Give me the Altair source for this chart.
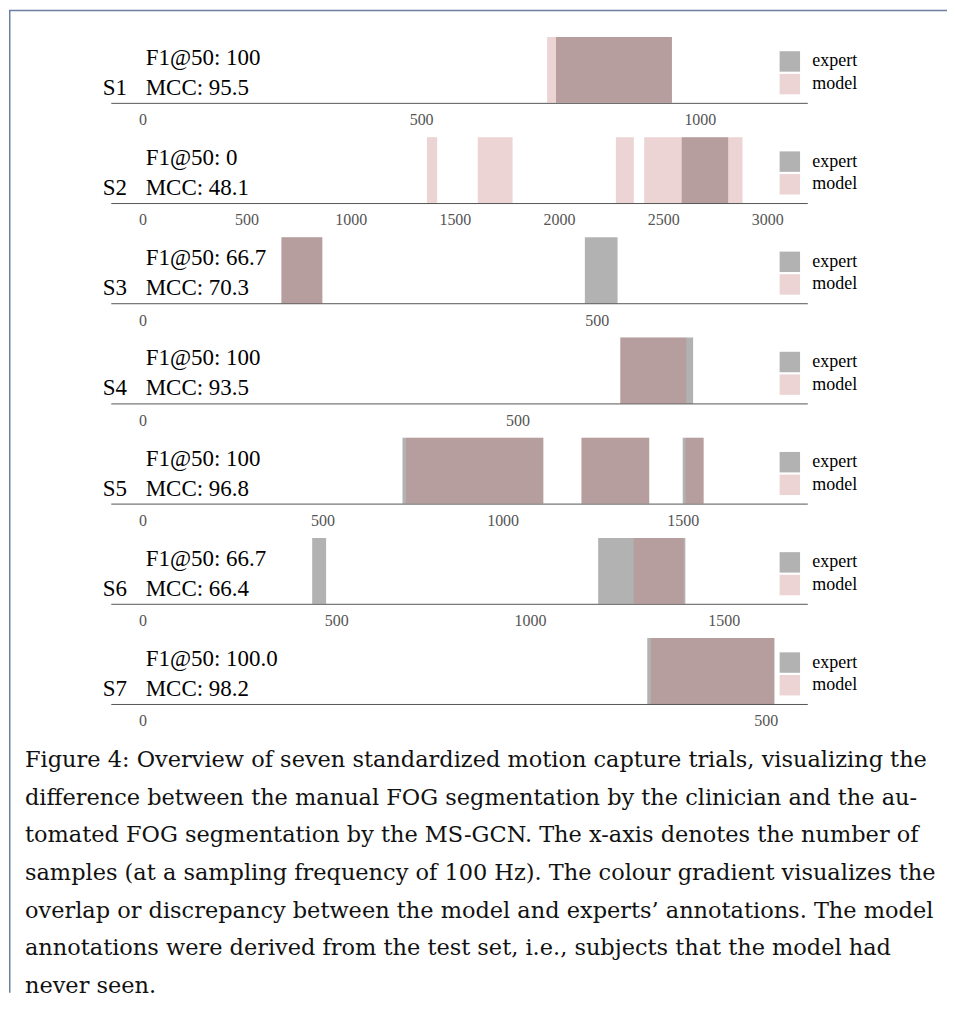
import altair as alt
import pandas as pd

# ---------------- data ----------------
subjects = ["S1", "S2", "S3", "S4", "S5", "S6", "S7"]
f1_scores = ["100", "0", "66.7", "100", "100", "66.7", "100.0"]
mcc_scores = ["95.5", "48.1", "70.3", "93.5", "96.8", "66.4", "98.2"]
trial_lengths = [1136, 3040, 697, 844, 1758, 1634, 508]
tick_values = [
    [0, 500, 1000],
    [0, 500, 1000, 1500, 2000, 2500, 3000],
    [0, 500],
    [0, 500],
    [0, 500, 1000, 1500],
    [0, 500, 1000, 1500],
    [0, 500],
]
expert_starts = [[742], [2589], [153, 487], [637], [722, 1219, 1500], [438, 1176], [405]]
expert_ends = [[950], [2812], [198, 523], [734], [1113, 1407, 1558], [474, 1401], [507]]
model_starts = [[726], [1366, 1610, 2273, 2409], [153], [637], [732, 1219, 1508], [1268], [408]]
model_ends = [[950], [1415, 1777, 2359, 2881], [198], [725], [1113, 1407, 1558], [1397], [507]]
series_names = ["expert", "model"]
series_colors = ["#000000", "#c07073"]

caption_lines = [
    "Figure 4: Overview of seven standardized motion capture trials, visualizing the",
    "difference between the manual FOG segmentation by the clinician and the au-",
    "tomated FOG segmentation by the MS-GCN. The x-axis denotes the number of",
    "samples (at a sampling frequency of 100 Hz). The colour gradient visualizes the",
    "overlap or discrepancy between the model and experts\u2019 annotations. The model",
    "annotations were derived from the test set, i.e., subjects that the model had",
    "never seen.",
]

# ---------------- style ----------------
W = 940
H = 66
SPACING = 34.4
SERIF = "Liberation Serif"
CAP_FONT = "DejaVu Serif"
FRAME = "#6b7f9e"
CAP_H = 255


def panel(i):
    rows = []
    for s, e in zip(expert_starts[i], expert_ends[i]):
        rows.append({"who": "expert", "start": s, "end": e})
    for s, e in zip(model_starts[i], model_ends[i]):
        rows.append({"who": "model", "start": s, "end": e})
    df = pd.DataFrame(rows)
    L = trial_lengths[i]
    xscale = alt.Scale(domain=[-0.05 * L, 1.05 * L], range=[102, 800], nice=False, zero=False)
    bars = alt.Chart(df).mark_rect(opacity=0.3).encode(
        x=alt.X(
            "start:Q",
            scale=xscale,
            axis=alt.Axis(
                values=tick_values[i], format="d", title=None, grid=False,
                ticks=False, tickSize=0, labelFont=SERIF, labelFontSize=16,
                labelColor="#555555", domainColor="#555555", domainWidth=1,
                labelPadding=9, labelFlush=False,
            ),
        ),
        x2="end:Q",
        color=alt.Color(
            "who:N",
            scale=alt.Scale(domain=series_names, range=series_colors),
            legend=alt.Legend(
                title=None, orient="none", legendX=772, legendY=14,
                symbolType="square", symbolSize=420, symbolOpacity=0.3,
                symbolStrokeWidth=0, labelFont=SERIF, labelFontSize=18,
                labelColor="#000000", rowPadding=1.7, labelOffset=12, padding=0,
            ),
        ),
    )
    label_df = pd.DataFrame({
        "subject": [subjects[i]],
        "f1": ["F1@50: " + f1_scores[i]],
        "mcc": ["MCC: " + mcc_scores[i]],
    })
    txt = alt.Chart(label_df).mark_text(
        font=SERIF, fontSize=23, align="left", baseline="alphabetic", color="#000000"
    )
    t1 = txt.encode(x=alt.value(94), y=alt.value(58), text="subject:N")
    t2 = txt.encode(x=alt.value(137), y=alt.value(28), text="f1:N")
    t3 = txt.encode(x=alt.value(137), y=alt.value(58), text="mcc:N")
    layers = [bars, t1, t2, t3]
    if i == 0:
        top_rule = alt.Chart(pd.DataFrame({"k": [0]})).mark_rule(
            color=FRAME, strokeWidth=1.5
        ).encode(x=alt.value(0), x2=alt.value(W), y=alt.value(-26.5))
        layers.append(top_rule)
    return alt.layer(*layers).properties(width=W, height=H)


panels = [panel(i) for i in range(len(subjects))]

cap_df = pd.DataFrame({"line": list(range(len(caption_lines))), "text": caption_lines})
n = len(caption_lines) - 1
caption_text = alt.Chart(cap_df).mark_text(
    font=CAP_FONT, fontSize=22.5, align="left", baseline="alphabetic", color="#111111"
).encode(
    x=alt.value(16),
    y=alt.Y("line:Q", scale=alt.Scale(domain=[0, n], range=[28.9, 28.9 + 37.75 * n]), axis=None),
    text="text:N",
)
cap_top = 35 + 6 * (H + SPACING) + H + SPACING  # page y of caption view top
left_rule = alt.Chart(pd.DataFrame({"k": [0]})).mark_rule(
    color=FRAME, strokeWidth=1.5
).encode(x=alt.value(0.75), y=alt.value(8 - cap_top), y2=alt.value(CAP_H))
caption = alt.layer(caption_text, left_rule).properties(width=W, height=CAP_H)

chart = alt.vconcat(*panels, caption, spacing=SPACING, bounds="flush").resolve_scale(
    x="independent", y="independent", color="independent"
).resolve_legend(color="independent").properties(padding=0).configure_view(stroke=None)

chart.save("out.html", embed_options={"renderer": "svg", "actions": False})
